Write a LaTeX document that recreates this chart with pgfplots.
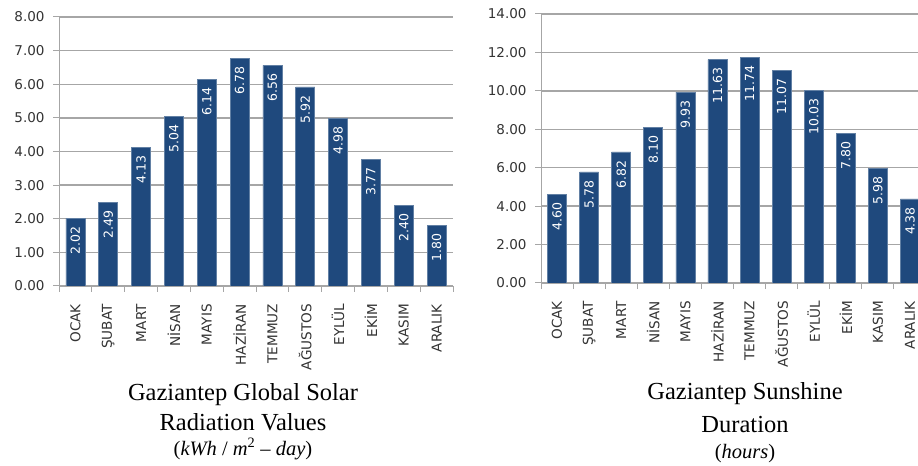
\documentclass[border=0pt]{standalone}
\usepackage{fontspec}
\setmainfont{Liberation Serif}
\newfontfamily\chartfont{DejaVu Sans}
\usepackage{pgfplots}
\pgfplotsset{compat=1.18}

\definecolor{barblue}{HTML}{1F497D}
\definecolor{gridgray}{HTML}{A6A6A6}
\definecolor{ticktext}{HTML}{333333}

\pgfplotsset{
  gzbars/.style={
    scale only axis,
    height=269bp,
    ybar, bar width=19bp,
    xmin=0.5, xmax=12.5, ymin=0,
    axis x line=bottom, axis y line=left,
    axis line style={gridgray, line width=1bp, -},
    ymajorgrids, grid style={gridgray, line width=1.3bp},
    tick align=outside,
    tick style={gridgray, line width=1bp},
    major tick length=6bp,
    xtick={0.5,1.5,...,12.5}, xticklabel=\empty,
    extra x ticks={1,...,12},
    extra x tick labels={OCAK,ŞUBAT,MART,NİSAN,MAYIS,HAZİRAN,TEMMUZ,AĞUSTOS,EYLÜL,EKİM,KASIM,ARALIK},
    extra x tick style={tick style={draw=none}, grid=none,
      tick label style={rotate=90, anchor=east, inner xsep=12bp, text=ticktext,
        font=\chartfont\fontsize{13.6bp}{15bp}\selectfont}},
    y tick label style={text=ticktext, xshift=-5bp,
      font=\chartfont\fontsize{13.5bp}{15bp}\selectfont,
      /pgf/number format/.cd, fixed, fixed zerofill, precision=2},
    /pgf/number format/assume math mode=true,
    nodes near coords={\pgfmathprintnumber[fixed, fixed zerofill, precision=2, assume math mode=true]{\pgfplotspointmeta}},
    every node near coord/.append style={rotate=90, anchor=east, inner xsep=8bp,
      text=white, font=\chartfont\fontsize{12.5bp}{14bp}\selectfont},
  },
}

\begin{document}
\begin{tikzpicture}
\path[use as bounding box, clip] (0,0) rectangle (918bp,466bp);

% left: global solar radiation
\begin{axis}[gzbars, width=394bp, at={(59bp,180bp)}, anchor=south west,
  ymax=8, ytick distance=1]
\addplot[fill=barblue, draw=barblue!70!white, line width=0.6bp] coordinates {
  (1,2.02) (2,2.49) (3,4.13) (4,5.04) (5,6.14) (6,6.78)
  (7,6.56) (8,5.92) (9,4.98) (10,3.77) (11,2.40) (12,1.80)};
\end{axis}

% right: sunshine duration
\begin{axis}[gzbars, width=385bp, at={(541bp,183bp)}, anchor=south west,
  ymax=14, ytick distance=2]
\addplot[fill=barblue, draw=barblue!70!white, line width=0.6bp] coordinates {
  (1,4.60) (2,5.78) (3,6.82) (4,8.10) (5,9.93) (6,11.63)
  (7,11.74) (8,11.07) (9,10.03) (10,7.80) (11,5.98) (12,4.38)};
\end{axis}

\begin{scope}[every node/.style={anchor=base, inner sep=0pt}]
\node[font=\fontsize{24.5bp}{28bp}\selectfont] at (243bp,65bp) {Gaziantep Global Solar};
\node[font=\fontsize{24.5bp}{28bp}\selectfont] at (243bp,36bp) {Radiation Values};
\node[font=\fontsize{20.5bp}{24bp}\selectfont] at (243bp,11bp) {(\textit{kWh} / \textit{m}\textsuperscript{2} -- \textit{day})};
\node[font=\fontsize{24.5bp}{28bp}\selectfont] at (745bp,66bp) {Gaziantep Sunshine};
\node[font=\fontsize{24.5bp}{28bp}\selectfont] at (745bp,34bp) {Duration};
\node[font=\fontsize{20.5bp}{24bp}\selectfont] at (745bp,8bp) {(\textit{hours})};
\end{scope}
\end{tikzpicture}
\end{document}
